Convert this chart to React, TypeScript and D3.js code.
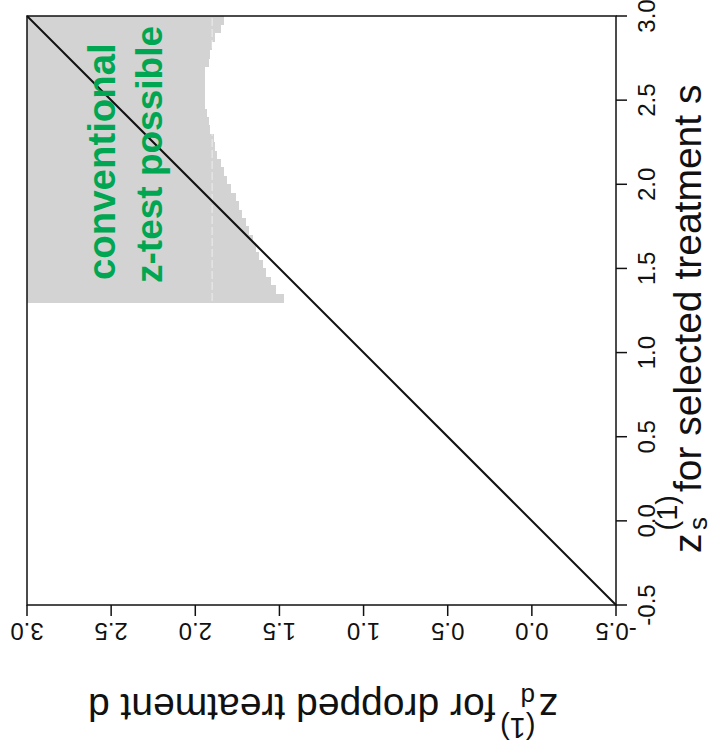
import * as d3 from "d3";
import React from "react";

// axis ticks (same for both axes)
const ticks = [-0.5, 0.0, 0.5, 1.0, 1.5, 2.0, 2.5, 3.0];

// lower edge of each row of the shaded region (z_s), row height 0.05
const sRowLow = [
  1.3, 1.35, 1.4, 1.45, 1.5, 1.55, 1.6, 1.65, 1.7, 1.75, 1.8, 1.85, 1.9, 1.95,
  2.0, 2.05, 2.1, 2.15, 2.2, 2.25, 2.3, 2.35, 2.4, 2.45, 2.5, 2.55, 2.6, 2.65,
  2.7, 2.75, 2.8, 2.85, 2.9, 2.95,
];
// smallest z_d still shaded in that row
const dEdge = [
  1.47, 1.52, 1.55, 1.58, 1.6, 1.62, 1.64, 1.66, 1.68, 1.7, 1.72, 1.74, 1.76,
  1.79, 1.81, 1.83, 1.85, 1.87, 1.88, 1.89, 1.91, 1.92, 1.93, 1.94, 1.94, 1.94,
  1.94, 1.94, 1.92, 1.91, 1.9, 1.88, 1.85, 1.83,
];
const rowStep = 0.05;
const seamAt = 1.9;

const W = 713;
const H = 752;
const left = 27;
const right = 616;
const top = 16;
const bottom = 605;
const font = "'Liberation Sans', Arial, Helvetica, sans-serif";
const green = "#00a651";

// axis title: z with superscript (1) and a subscript, then the words
function Title({ sub, words }: { sub: string; words: string }) {
  return (
    <>
      <tspan>z</tspan>
      <tspan fontSize={29} dx={3} dy={-24}>(1)</tspan>
      <tspan fontSize={26} dx={-35} dy={30}>{sub}</tspan>
      <tspan dx={25} dy={-6}>{words}</tspan>
    </>
  );
}

export default function App() {
  // horizontal: z_d, reversed (3.0 on the left)
  const x = d3.scaleLinear().domain([3.0, -0.5]).range([left, right]);
  // vertical: z_s
  const y = d3.scaleLinear().domain([-0.5, 3.0]).range([bottom, top]);

  const rows = sRowLow.map((s, i) => ({ s, d: dEdge[i] }));

  return (
    <svg
      width={W}
      height={H}
      style={{ position: "absolute", left: 0, top: 0, background: "#fff" }}
      fontFamily={font}
    >
      {/* shaded region */}
      <g fill="#d3d3d3" shapeRendering="crispEdges">
        {rows.map((r, i) => (
          <rect
            key={i}
            x={x(3.0)}
            y={y(r.s + rowStep)}
            width={x(r.d) - x(3.0)}
            height={y(r.s) - y(r.s + rowStep) + 0.5}
          />
        ))}
      </g>
      {/* faint seam inside the shading */}
      <line
        x1={x(seamAt)}
        x2={x(seamAt)}
        y1={y(3.0) + 2}
        y2={y(1.3)}
        stroke="#fff"
        strokeOpacity={0.6}
        strokeWidth={1}
        strokeDasharray="8,3"
      />

      {/* diagonal z_d = z_s */}
      <line
        x1={x(3.0)}
        y1={y(3.0)}
        x2={x(-0.5)}
        y2={y(-0.5)}
        stroke="#111"
        strokeWidth={2}
      />

      {/* frame */}
      <rect
        x={left}
        y={top}
        width={right - left}
        height={bottom - top}
        fill="none"
        stroke="#111"
        strokeWidth={1.5}
      />

      {/* right axis (z_s) */}
      <g>
        {ticks.map((t) => (
          <g key={"r" + t}>
            <line x1={right} x2={right + 11} y1={y(t)} y2={y(t)} stroke="#111" strokeWidth={1.5} />
            <text
              transform={`translate(655,${y(t)}) rotate(-90)`}
              textAnchor="middle"
              fontSize={24}
              fill="#111"
            >
              {t.toFixed(1)}
            </text>
          </g>
        ))}
      </g>

      {/* bottom axis (z_d), upside down labels */}
      <g>
        {ticks.map((t) => (
          <g key={"b" + t}>
            <line x1={x(t)} x2={x(t)} y1={bottom} y2={bottom + 11} stroke="#111" strokeWidth={1.5} />
            <text
              transform={`translate(${x(t)},623) rotate(180)`}
              textAnchor="middle"
              fontSize={24}
              fill="#111"
            >
              {t.toFixed(1)}
            </text>
          </g>
        ))}
      </g>

      {/* right title */}
      <text transform={`translate(701,553) rotate(-90)`} fontSize={39} fill="#111">
        <Title sub="s" words="for selected treatment s" />
      </text>

      {/* bottom title */}
      <text transform={`translate(558,694) rotate(180)`} fontSize={39} fill="#111">
        <Title sub="d" words="for dropped treatment d" />
      </text>

      {/* annotation */}
      <text
        fontSize={38.4}
        fontWeight="bold"
        fill={green}
        transform={`translate(115,280) rotate(-90)`}
      >
        conventional
      </text>
      <text
        fontSize={37}
        fontWeight="bold"
        fill={green}
        transform={`translate(162,283) rotate(-90)`}
      >
        z-test possible
      </text>
    </svg>
  );
}
